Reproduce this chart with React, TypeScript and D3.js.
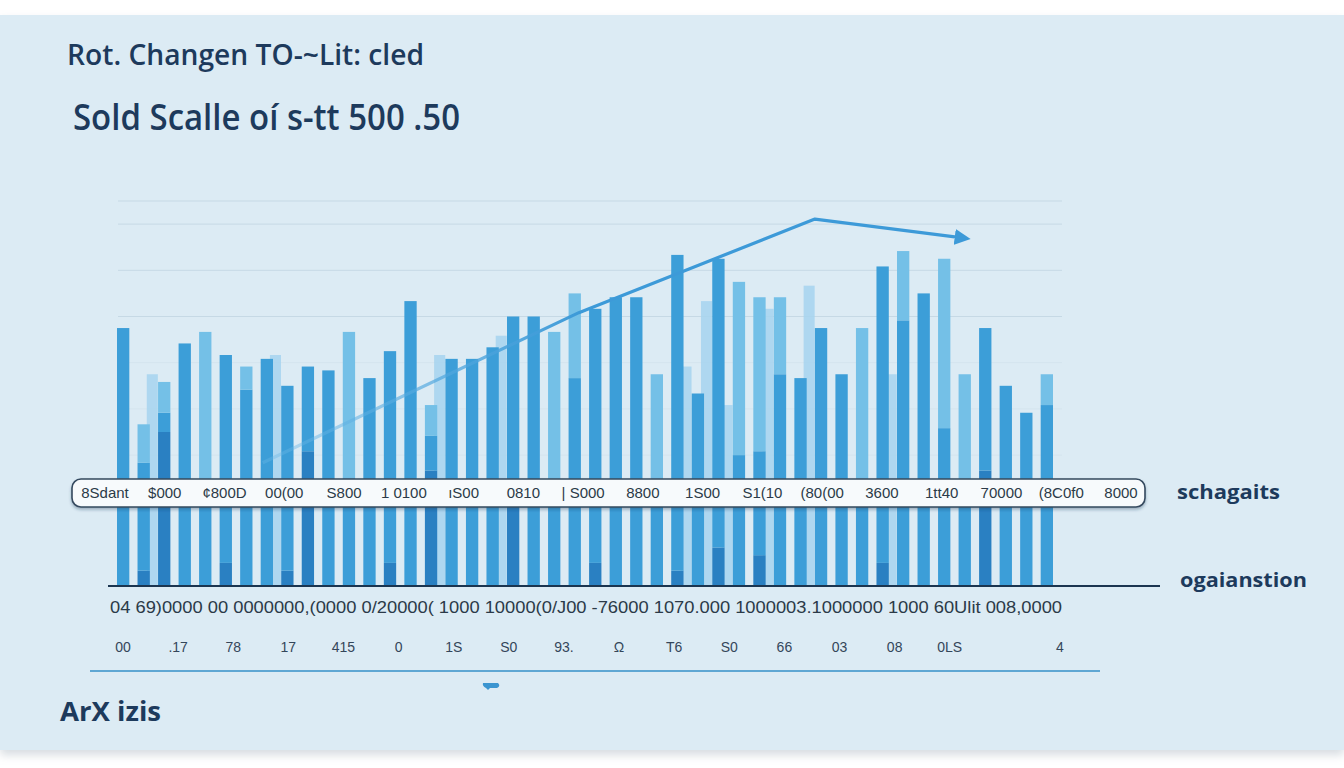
import React from 'react';
import * as d3 from 'd3';

const W = 1344;
const H = 768;

const titleLine1 = 'Rot. Changen TO-~Lit: cled';
const titleLine2 = 'Sold Scalle oí s-tt 500 .50';
const axisTitle = 'ArX izis';
const sideLabelTop = 'schagaits';
const sideLabelBottom = 'ogaianstion';

const categories = d3.range(46);

const deepVals = [0,4,40,0,0,6,0,0,4,35,0,0,0,6,0,30,0,0,0,22,0,0,0,6,0,0,0,4,0,10,0,8,0,0,0,0,0,6,0,0,0,0,30,0,0,0];
const mainVals = [67,28,5,63,26,54,51,59,48,22,56,28,54,55,74,9,59,59,62,48,70,26,54,66,75,75,21,82,50,75,34,27,55,54,67,55,27,77,69,76,41,25,37,52,45,47];
const capVals  = [0,10,8,0,40,0,6,0,0,0,0,38,0,0,0,8,0,0,0,0,0,40,22,0,0,0,34,0,0,0,45,40,20,0,0,0,40,0,18,0,44,30,0,0,0,8];
const ghostVals = [0,55,0,0,0,0,0,60,0,0,0,0,0,0,0,60,0,0,65,0,0,0,0,0,0,0,0,57,74,47,0,72,0,78,0,0,0,55,0,0,0,0,0,0,0,0];

const gridVals = [100, 94, 82, 70];
const faintGridVals = [58, 46, 34];

const trendSlots = [6.8, 22.2, 33.7, 40.9];
const trendVals = [32, 71, 95.3, 90.4];

const boxLabels = ['8Sdant','$000','¢800D','00(00','S800','1 0100','ıS00','0810','| S000','8800','1S00','S1(10','(80(00','3600','1tt40','70000','(8C0f0','8000'];
const rowOneText = '04 69)0000 00 0000000,(0000 0/20000( 1000 10000(0/J00 -76000 1070.000 1000003.1000000 1000 60Ulit 008,0000';
const rowTwoLabels = ['00','.17','78','17','415','0','1S','S0','93.','Ω','T6','S0','66','03','08','0LS','','4'];

const seriesKeys = ['deep', 'main', 'cap'];
const seriesColors: Record<string, string> = { deep: '#2a80c2', main: '#3c9ed8', cap: '#74c0e7' };

export default function App() {
  const x = d3.scaleBand<number>().domain(categories).range([117, 1053]).paddingInner(0.4).paddingOuter(0);
  const y = d3.scaleLinear().domain([0, 100]).range([586, 201]);
  const xs = d3.scaleLinear().domain([0, 45]).range([(x(0) as number) + x.bandwidth() / 2, (x(45) as number) + x.bandwidth() / 2]);

  const rows = categories.map((i) => ({ deep: deepVals[i], main: mainVals[i], cap: capVals[i] }));
  const stacked = d3.stack<any>().keys(seriesKeys)(rows);

  const trendPts: [number, number][] = trendSlots.map((s, i) => [xs(s), y(trendVals[i])]);
  const trendPath = d3.line()(trendPts) || '';

  const boxX = d3.scalePoint<number>().domain(d3.range(boxLabels.length)).range([105, 1121]);
  const rowTwoX = d3.scalePoint<number>().domain(d3.range(rowTwoLabels.length)).range([123, 1060]);

  const titleFont = '"Open Sans", "Noto Sans", sans-serif';
  const labelFont = '"Liberation Sans", Arial, sans-serif';
  const navy = '#1d3a5c';

  return (
    <svg width={W} height={H} style={{ position: 'absolute', left: 0, top: 0 }}>
      <defs>
        <filter id="panelShadow" x="-5%" y="-5%" width="110%" height="115%">
          <feDropShadow dx="0" dy="5" stdDeviation="5" floodColor="#8a9aa8" floodOpacity="0.35" />
        </filter>
        <filter id="boxShadow" x="-2%" y="-30%" width="104%" height="170%">
          <feDropShadow dx="0" dy="2" stdDeviation="1.5" floodColor="#1d3a5c" floodOpacity="0.35" />
        </filter>
        <linearGradient id="trendGrad" gradientUnits="userSpaceOnUse" x1={trendPts[0][0]} y1="0" x2={trendPts[1][0]} y2="0">
          <stop offset="0" stopColor="#6bb8e6" stopOpacity="0.35" />
          <stop offset="1" stopColor="#3d9ad8" stopOpacity="1" />
        </linearGradient>
        <marker id="arrowHead" viewBox="0 0 10 10" refX="5" refY="5" markerWidth="5" markerHeight="5" orient="auto">
          <path d="M0,0 L10,5 L0,10 z" fill="#3d9ad8" />
        </marker>
      </defs>
      <rect x={0} y={0} width={W} height={H} fill="#ffffff" />
      <rect x={0} y={15} width={W} height={735} fill="#dcebf4" filter="url(#panelShadow)" />

      <text x={67} y={65} fontFamily={titleFont} fontWeight={600} fontSize={28} fill={navy} textLength={357} lengthAdjust="spacingAndGlyphs">{titleLine1}</text>
      <text x={73} y={130} fontFamily={titleFont} fontWeight={600} fontSize={36} fill={navy} textLength={387} lengthAdjust="spacingAndGlyphs">{titleLine2}</text>

      {gridVals.map((v) => (
        <line key={'g' + v} x1={118} x2={1062} y1={y(v)} y2={y(v)} stroke="#c6d9e5" strokeWidth={1} />
      ))}
      {faintGridVals.map((v) => (
        <line key={'fg' + v} x1={118} x2={1062} y1={y(v)} y2={y(v)} stroke="#cfe0ea" strokeWidth={1} opacity={0.6} />
      ))}

      {categories.map((i) => ghostVals[i] > 0 ? (
        <rect key={'gh' + i} x={(x(i) as number) + x.bandwidth() * 0.75} y={y(ghostVals[i])} width={x.bandwidth() * 0.9} height={y(0) - y(ghostVals[i])} fill="#a6d4ee" opacity={0.85} />
      ) : null)}

      {stacked.map((s) => (
        <g key={s.key} fill={seriesColors[s.key]}>
          {s.map((d, i) => d[1] > d[0] ? (
            <rect key={i} x={x(categories[i]) as number} y={y(d[1])} width={x.bandwidth()} height={y(d[0]) - y(d[1])} />
          ) : null)}
        </g>
      ))}

      <path d={trendPath} fill="none" stroke="url(#trendGrad)" strokeWidth={3.2} strokeLinejoin="round" markerEnd="url(#arrowHead)" />

      <line x1={108} x2={1160} y1={y(0)} y2={y(0)} stroke="#1b3550" strokeWidth={2} />

      <rect x={72} y={479} width={1073} height={28} rx={9} fill="#f7fafc" stroke="#34495e" strokeWidth={1.6} filter="url(#boxShadow)" />
      {boxLabels.map((t, i) => (
        <text key={'bl' + i} x={boxX(i)} y={498} textAnchor="middle" fontFamily={labelFont} fontSize={15} fill="#2b3a48">{t}</text>
      ))}

      <text x={1177} y={499} fontFamily={titleFont} fontWeight={700} fontSize={19} fill={navy} textLength={103} lengthAdjust="spacingAndGlyphs">{sideLabelTop}</text>
      <text x={1180} y={587} fontFamily={titleFont} fontWeight={700} fontSize={19} fill={navy} textLength={127} lengthAdjust="spacingAndGlyphs">{sideLabelBottom}</text>

      <text x={110} y={613} fontFamily={labelFont} fontSize={16} fill="#2b3a48" textLength={952} lengthAdjust="spacingAndGlyphs">{rowOneText}</text>

      {rowTwoLabels.map((t, i) => (
        <text key={'r2' + i} x={rowTwoX(i)} y={652} textAnchor="middle" fontFamily={labelFont} fontSize={14} fill="#34465a">{t}</text>
      ))}

      <line x1={90} x2={1100} y1={671} y2={671} stroke="#5fa7d3" strokeWidth={2} />
      <path d="M483,683 L498,683 Q501,686 497,688 L490,688 L488,690 L486,688 Q482,686 483,683 z" fill="#3b95d0" />

      <text x={60} y={721} fontFamily={titleFont} fontWeight={700} fontSize={26} fill={navy} textLength={101} lengthAdjust="spacingAndGlyphs">{axisTitle}</text>
    </svg>
  );
}
